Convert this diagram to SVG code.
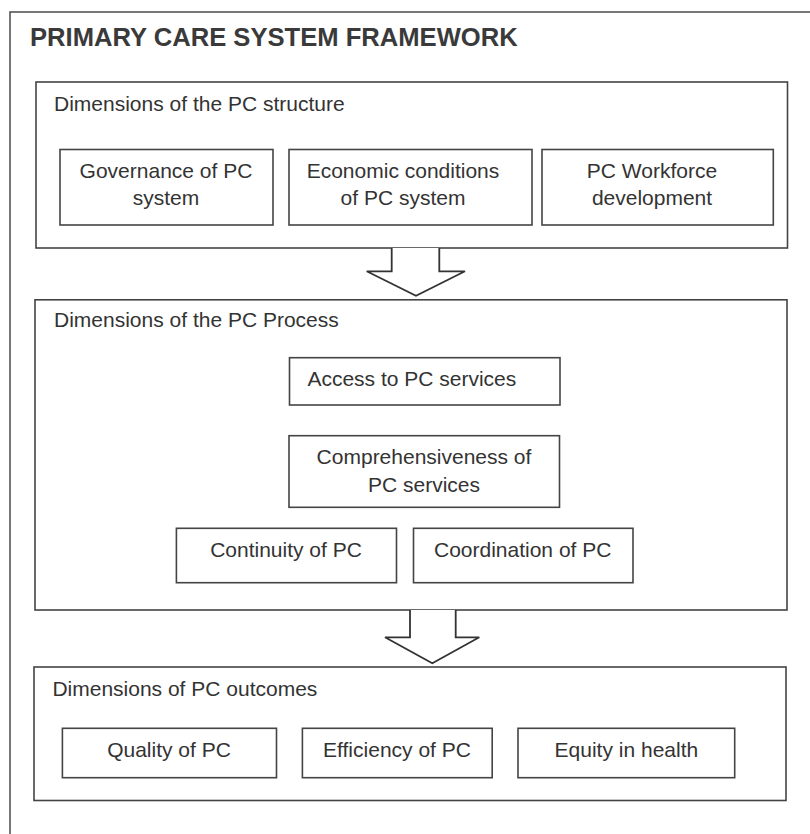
<svg xmlns="http://www.w3.org/2000/svg" width="810" height="834" viewBox="0 0 810 834">
<style>
.box{fill:#fff;stroke:#444;stroke-width:1.6}
.frame{fill:#fff;stroke:#555;stroke-width:1.6}
.t{font-family:"Liberation Sans",Arial,sans-serif;font-size:21px;fill:#333}
.c{text-anchor:middle}
.title{font-family:"Liberation Sans",Arial,sans-serif;font-size:25.6px;font-weight:bold;fill:#3a3a3a}
.arrow{fill:#fff;stroke:#333;stroke-width:1.8;stroke-linejoin:miter}
</style>
<rect width="810" height="834" fill="#fff"/>
<rect class="frame" x="10" y="12" width="820" height="840"/>
<text class="title" x="30" y="45.7">PRIMARY CARE SYSTEM FRAMEWORK</text>

<g id="structure">
<rect class="box" x="36" y="82" width="751.5" height="166"/>
<text class="t" x="54" y="110.7">Dimensions of the PC structure</text>
</g>
<g id="governance">
<rect class="box" x="60" y="149.5" width="213" height="75.5"/>
<text class="t c" x="166" y="178">Governance of PC</text>
<text class="t c" x="166" y="205">system</text>
</g>
<g id="economic">
<rect class="box" x="289" y="149.5" width="243" height="75.5"/>
<text class="t c" x="403" y="178">Economic conditions</text>
<text class="t c" x="403" y="205">of PC system</text>
</g>
<g id="workforce">
<rect class="box" x="542" y="149.5" width="231.3" height="75.5"/>
<text class="t c" x="652" y="178">PC Workforce</text>
<text class="t c" x="652" y="205">development</text>
</g>

<g id="process">
<rect class="box" x="35" y="299.8" width="752" height="310.2"/>
<text class="t" x="54" y="326.7">Dimensions of the PC Process</text>
</g>
<g id="access">
<rect class="box" x="289.5" y="357.7" width="270.5" height="47.3"/>
<text class="t" x="307.4" y="385.7">Access to PC services</text>
</g>
<g id="comprehensiveness">
<rect class="box" x="289" y="435.7" width="270.5" height="71.6"/>
<text class="t c" x="424" y="464">Comprehensiveness of</text>
<text class="t c" x="424" y="491.7">PC services</text>
</g>
<g id="continuity">
<rect class="box" x="176.4" y="528.3" width="220.1" height="54.4"/>
<text class="t c" x="286" y="556.7">Continuity of PC</text>
</g>
<g id="coordination">
<rect class="box" x="413.5" y="528.3" width="219.5" height="54.4"/>
<text class="t c" x="522.7" y="556.7">Coordination of PC</text>
</g>

<g id="outcomes">
<rect class="box" x="34" y="667" width="752" height="133.5"/>
<text class="t" x="52.4" y="695.7">Dimensions of PC outcomes</text>
</g>
<g id="quality">
<rect class="box" x="62.4" y="728.3" width="214.1" height="49.4"/>
<text class="t c" x="169" y="756.7">Quality of PC</text>
</g>
<g id="efficiency">
<rect class="box" x="302.4" y="728.3" width="189.8" height="49.4"/>
<text class="t c" x="397" y="756.7">Efficiency of PC</text>
</g>
<g id="equity">
<rect class="box" x="518" y="728.3" width="216.7" height="49.4"/>
<text class="t c" x="626.4" y="756.7">Equity in health</text>
</g>

<g id="connectors">
<polyline class="arrow" points="391.7,248 391.7,271.3 366.7,271.3 416,295.7 465,271.3 439.3,271.3 439.3,248"/>
<polyline class="arrow" points="410,610 410,637.3 385,637.3 432.3,663.3 479.3,637.3 455.7,637.3 455.7,610"/>
</g>
</svg>
